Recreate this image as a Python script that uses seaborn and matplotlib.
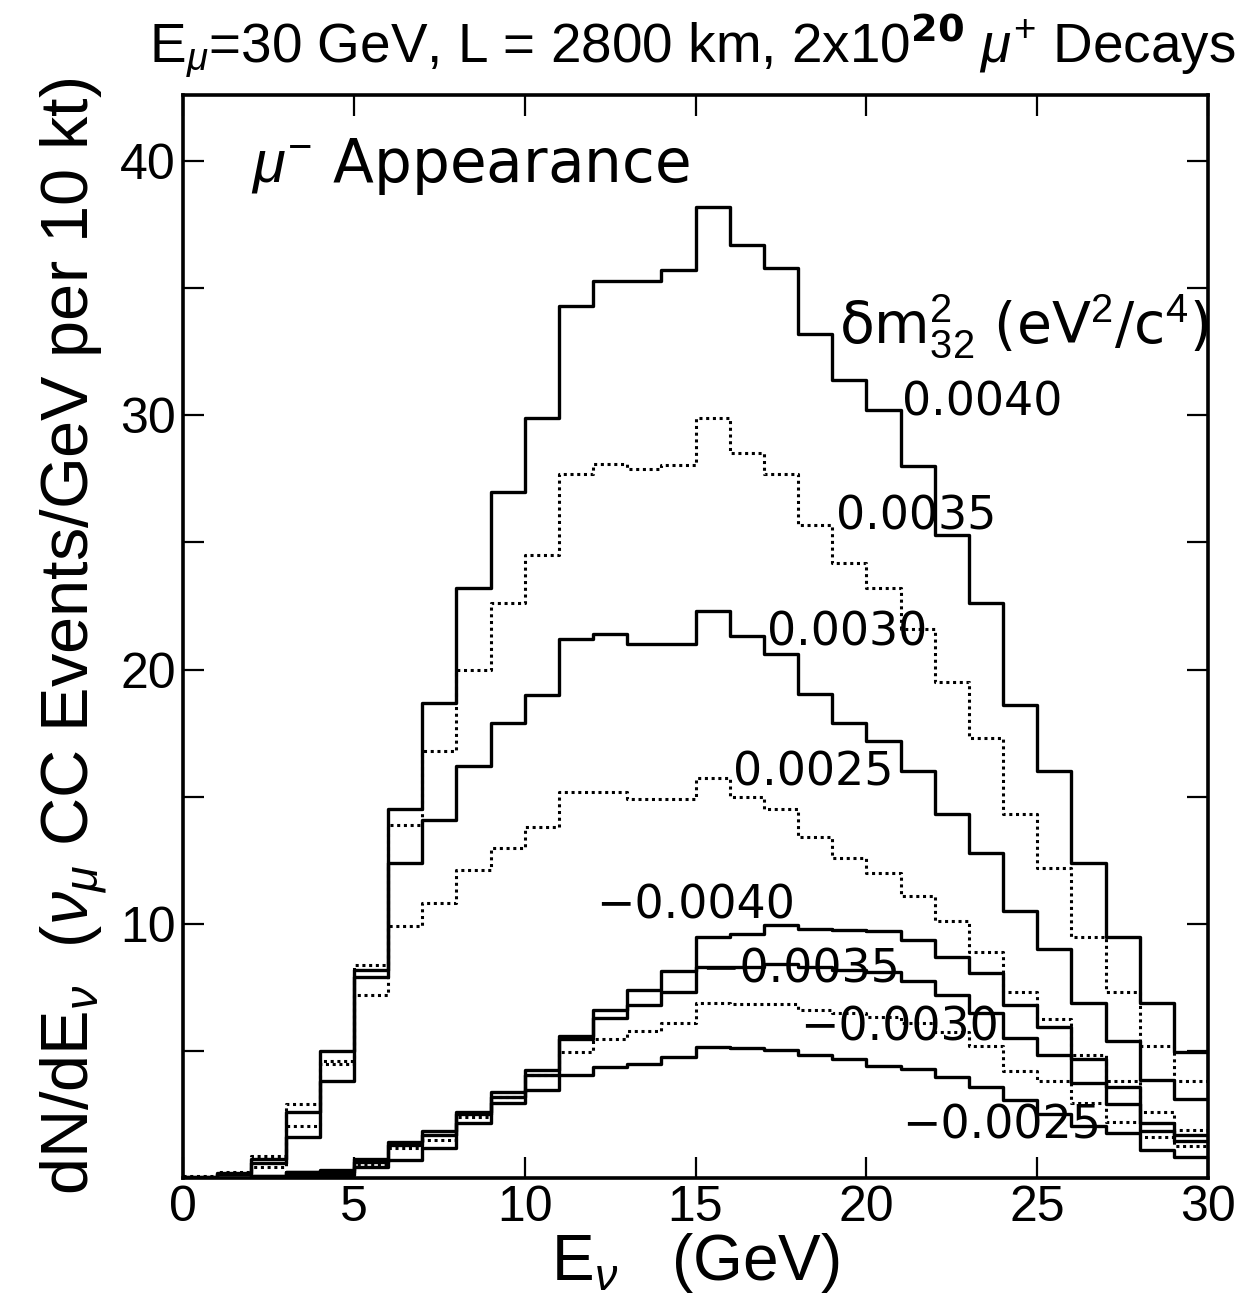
"""Mu- appearance spectra for a 30 GeV neutrino factory, L = 2800 km."""

import matplotlib

matplotlib.use("Agg")
import matplotlib.pyplot as plt
import pandas as pd
import seaborn as sns

sns.set_style("ticks")
plt.rcParams["font.family"] = ["Liberation Sans", "DejaVu Sans"]
plt.rcParams["mathtext.fontset"] = "custom"
plt.rcParams["mathtext.rm"] = "Liberation Sans"
plt.rcParams["mathtext.it"] = "Liberation Sans:italic"
for key in ["text.color", "axes.labelcolor", "xtick.color", "ytick.color",
            "axes.edgecolor"]:
    plt.rcParams[key] = "black"

# 1 GeV bins from 0 to 30 GeV
BIN_EDGES = list(range(0, 31))

DM_LABELS = ["0.0040", "0.0035", "0.0030", "0.0025",
             "\u22120.0040", "\u22120.0035", "\u22120.0030", "\u22120.0025"]

# events / GeV per 10 kt, one value per bin
P40 = [0.05, 0.2, 0.74, 2.6, 5.0, 8.17, 14.5, 18.7, 23.2, 27.0,
       29.9, 34.3, 35.3, 35.3, 35.7, 38.2, 36.7, 35.8, 33.2, 31.4,
       30.2, 28.0, 25.3, 22.6, 18.6, 16.0, 12.4, 9.5, 6.9, 4.95]
P35 = [0.1, 0.25, 0.86, 2.9, 4.6, 8.37, 13.9, 16.8, 20.0, 22.6,
       24.5, 27.7, 28.1, 27.9, 28.05, 29.9, 28.5, 27.7, 25.7, 24.2,
       23.2, 21.6, 19.5, 17.3, 14.3, 12.2, 9.5, 7.3, 5.2, 3.8]
P30 = [0.05, 0.15, 0.58, 1.62, 3.8, 7.91, 12.4, 14.1, 16.2, 17.9,
       19.0, 21.2, 21.4, 21.0, 21.0, 22.3, 21.3, 20.6, 19.05, 17.9,
       17.2, 16.0, 14.3, 12.8, 10.5, 9.0, 6.9, 5.4, 3.85, 3.1]
P25 = [0.05, 0.2, 0.43, 2.04, 4.5, 7.19, 9.9, 10.8, 12.1, 13.0,
       13.8, 15.2, 15.2, 14.9, 14.9, 15.75, 15.0, 14.5, 13.4, 12.6,
       12.0, 11.1, 10.1, 8.9, 7.3, 6.25, 4.85, 3.8, 2.6, 1.9]
N40 = [0.0, 0.02, 0.08, 0.25, 0.3, 0.75, 1.4, 1.85, 2.6, 3.4,
       4.25, 5.6, 6.6, 7.4, 8.15, 9.5, 9.6, 9.95, 9.8, 9.75,
       9.7, 9.35, 8.7, 8.05, 6.8, 5.95, 4.7, 3.6, 2.15, 1.7]
N35 = [0.0, 0.02, 0.07, 0.22, 0.25, 0.65, 1.3, 1.7, 2.5, 3.2,
       4.05, 5.45, 6.3, 6.8, 7.3, 8.3, 8.3, 8.4, 8.3, 8.2,
       8.1, 7.75, 7.2, 6.5, 5.5, 4.85, 3.75, 2.9, 1.85, 1.45]
N30 = [0.0, 0.01, 0.05, 0.15, 0.2, 0.55, 1.2, 1.5, 2.4, 3.2,
       4.05, 4.95, 5.45, 5.8, 6.1, 6.9, 6.85, 6.85, 6.6, 6.5,
       6.35, 6.1, 5.75, 5.2, 4.2, 3.8, 2.95, 2.2, 1.6, 1.25]
N25 = [0.0, 0.01, 0.04, 0.12, 0.12, 0.43, 0.71, 1.17, 2.15, 2.94,
       3.46, 4.05, 4.37, 4.5, 4.76, 5.16, 5.1, 5.05, 4.85, 4.7,
       4.4, 4.3, 3.98, 3.6, 3.06, 2.5, 2.05, 1.76, 1.1, 0.84]

SERIES = [P40, P35, P30, P25, N40, N35, N30, N25]


def build_frame() -> pd.DataFrame:
    rows = []
    for label, values in zip(DM_LABELS, SERIES):
        heights = values + [values[-1]]
        for edge, h in zip(BIN_EDGES, heights):
            rows.append({"dm2": label, "E": edge, "N": h})
    return pd.DataFrame(rows)


def main() -> None:
    df = build_frame()

    fig = plt.figure(figsize=(12.4, 13), dpi=100)
    ax = fig.add_axes([0.1476, 0.0938, 0.8266, 0.8332])

    dotted = {"0.0035", "0.0025", "\u22120.0030"}
    for label in DM_LABELS:
        sub = df[df["dm2"] == label]
        if label in dotted:
            style = dict(linestyle=(0, (1.0, 1.2)), linewidth=2.2)
        else:
            style = dict(linestyle="-", linewidth=2.4)
        sns.lineplot(data=sub, x="E", y="N", ax=ax, color="black",
                     drawstyle="steps-post", estimator=None, **style)

    ax.set_xlim(0, 30)
    ax.set_ylim(0, 42.6)
    ax.set_xticks(range(0, 31, 5))
    ax.set_yticks(range(5, 41, 5))
    ax.set_yticklabels(["" if v % 10 else str(v) for v in range(5, 41, 5)])
    ax.tick_params(direction="in", top=True, right=True, length=15,
                   width=1.6, labelsize=36, pad=5)
    for spine in ax.spines.values():
        spine.set_linewidth(2.6)

    ax.set_xlabel(r"E$_{\nu}$   (GeV)", fontsize=46, labelpad=0)
    ax.set_ylabel(r"dN/dE$_{\nu}$  ($\nu_{\mu}$ CC Events/GeV per 10 kt)",
                  fontsize=48, labelpad=8)
    fig.text(0.996, 0.965,
             r"E$_{\mu}$=30 GeV, L = 2800 km, 2x10$^{\mathbf{20}}$ $\mu^{+}$ Decays",
             ha="right", va="center", fontsize=39.5)

    num_font = ["DejaVu Sans"]
    ax.text(2.0, 39.8, r"$\mu^{-}$ Appearance", fontsize=43, va="center",
            family=num_font)
    ax.text(19.2, 33.5, r"δm$^{2}_{32}$ (eV$^{2}$/c$^{4}$)", fontsize=41,
            va="center", clip_on=True, family=num_font)

    label_pos = [(21.05, 30.5), (19.1, 26.0), (17.1, 21.45), (16.1, 15.95),
                 (12.1, 10.7), (15.15, 8.2), (18.05, 5.9), (21.05, 2.05)]
    for label, (x, y) in zip(DM_LABELS, label_pos):
        ax.text(x, y, label, fontsize=33, va="center", ha="left",
                family=num_font)

    fig.savefig("out.png", dpi=100)
    plt.close(fig)


if __name__ == "__main__":
    main()
